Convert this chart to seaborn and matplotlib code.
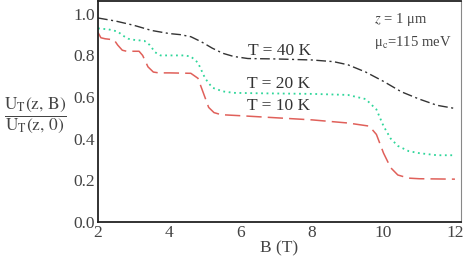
import matplotlib
matplotlib.use("Agg")
import matplotlib.pyplot as plt
import seaborn as sns
from matplotlib.ticker import MultipleLocator

# T = 40 K (dash-dot)
b_40 = [2, 2.5, 3, 3.5, 4, 4.3, 4.6, 4.9, 5.2, 5.5, 5.8, 6.2, 7, 8, 8.6, 9, 9.5, 10, 10.5, 11, 11.5, 12]
u_40 = [0.98, 0.965, 0.945, 0.92, 0.905, 0.90, 0.89, 0.865, 0.835, 0.81, 0.795, 0.785, 0.783, 0.778,
        0.77, 0.755, 0.72, 0.675, 0.625, 0.59, 0.56, 0.545]

# T = 20 K (dotted)
b_20 = [2, 2.3, 2.55, 2.7, 2.85, 3.0, 3.3, 3.45, 3.6, 3.75, 4.0, 4.4, 4.6, 4.8, 5.0, 5.2, 5.5, 5.8,
        6.5, 8, 9, 9.5, 9.8, 10.0, 10.2, 10.4, 10.7, 11, 11.5, 12]
u_20 = [0.93, 0.925, 0.915, 0.895, 0.88, 0.875, 0.87, 0.85, 0.815, 0.80, 0.80, 0.80, 0.795, 0.765,
        0.69, 0.645, 0.627, 0.62, 0.618, 0.615, 0.61, 0.59, 0.54, 0.46, 0.40, 0.365, 0.34, 0.33, 0.32, 0.32]

# T = 10 K (dashed)
b_10 = [2, 2.08, 2.2, 2.45, 2.55, 2.68, 2.8, 3.15, 3.25, 3.4, 3.55, 3.7, 4.0, 4.6, 4.8, 4.95, 5.1,
        5.25, 5.45, 6, 7, 8, 9, 9.6, 9.8, 10.0, 10.2, 10.4, 10.7, 11, 12]
u_10 = [0.91, 0.885, 0.88, 0.875, 0.85, 0.825, 0.82, 0.82, 0.80, 0.745, 0.72, 0.716, 0.716, 0.714,
        0.69, 0.62, 0.55, 0.525, 0.515, 0.51, 0.50, 0.49, 0.475, 0.46, 0.42, 0.33, 0.26, 0.225, 0.21,
        0.207, 0.205]

labels = ["T = 40 K", "T = 20 K", "T = 10 K"]

sns.set_style("white")
plt.rcParams["font.family"] = ["Liberation Serif", "DejaVu Serif"]
plt.rcParams["mathtext.fontset"] = "stix"

txt = "#444444"
fig = plt.figure(figsize=(4.63, 2.57), dpi=100)
ax = fig.add_axes([0.2117, 0.137, 0.784, 0.861])

sns.lineplot(x=b_40, y=u_40, ax=ax, color="#333333", lw=1.0, linestyle=(0, (7, 2.5, 1.5, 2.5)))
sns.lineplot(x=b_20, y=u_20, ax=ax, color="#2fd69a", lw=1.3, linestyle=(0, (1, 2)))
sns.lineplot(x=b_10, y=u_10, ax=ax, color="#e0605a", lw=1.1, linestyle=(0, (10, 4)))

ax.set_xlim(2, 12.17)
ax.set_ylim(0, 1.064)
ax.xaxis.set_major_locator(MultipleLocator(2))
ax.xaxis.set_minor_locator(MultipleLocator(0.5))
ax.yaxis.set_minor_locator(MultipleLocator(0.05))
ax.set_yticks([0, 0.2, 0.4, 0.6, 0.8, 1.0])
ax.set_yticklabels(["0.0", "0.2", "0.4", "0.6", "0.8", "1.0"])
ax.tick_params(which="both", direction="in", colors="#333333", labelcolor=txt, labelsize=12.5, pad=2)
ax.tick_params(which="major", length=4, width=1)
ax.tick_params(which="minor", length=2, width=0.8)

for s in ["left", "bottom", "top"]:
    ax.spines[s].set_color("#222222")
    ax.spines[s].set_linewidth(1.3)
ax.spines["right"].set_color("#888888")
ax.spines["right"].set_linewidth(0.8)

ax.set_xlabel("B (T)", fontsize=12.5, color=txt, labelpad=0)
ax.set_ylabel("")

ax.text(7.1, 0.80, labels[0], fontsize=12.5, color="#333333", ha="center", va="baseline")
ax.text(7.05, 0.643, labels[1], fontsize=12.5, color="#333333", ha="center", va="baseline")
ax.text(7.05, 0.537, labels[2], fontsize=12.5, color="#333333", ha="center", va="baseline")

ax.text(9.72, 0.975, r"$z$ = 1 μm", fontsize=10.5, color=txt, ha="left", va="center")
ax.text(9.72, 0.864, r"μ$_\mathrm{c}$=115 meV", fontsize=10.5, color=txt, ha="left", va="center")

fig.text(0.077, 0.55, r"$\dfrac{\mathrm{U}_\mathrm{T}(\mathrm{z},\,\mathrm{B})}{\mathrm{U}_\mathrm{T}(\mathrm{z},\,0)}$",
         fontsize=12.5, color=txt, ha="center", va="center")

fig.savefig("out.png", dpi=100)
